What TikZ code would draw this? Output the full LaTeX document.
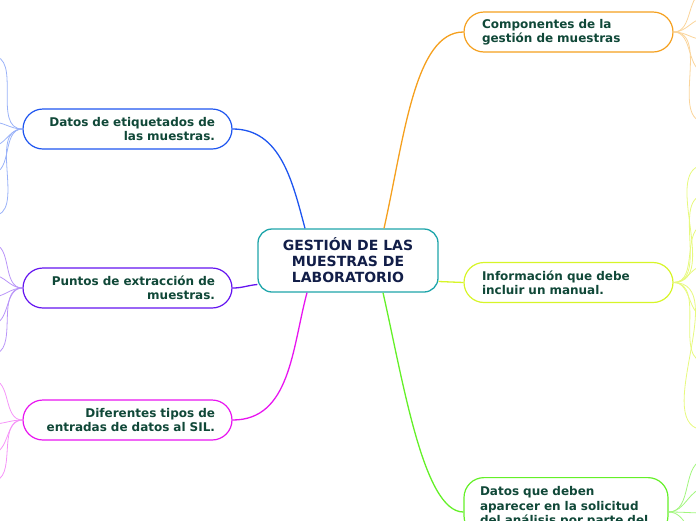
\documentclass[tikz,border=0pt]{standalone}
\usepackage{fontspec}
\setmainfont{DejaVu Sans}
\usetikzlibrary{calc}
\definecolor{txtgreen}{RGB}{16,72,56}
\definecolor{txtnavy}{RGB}{18,30,72}
\definecolor{cteal}{RGB}{30,165,170}
\definecolor{cblue}{RGB}{30,85,240}
\definecolor{cpurple}{RGB}{100,20,240}
\definecolor{cmag}{RGB}{232,20,240}
\definecolor{corange}{RGB}{245,160,30}
\definecolor{cyellow}{RGB}{215,245,40}
\definecolor{cgreen}{RGB}{100,240,40}
\begin{document}
\begin{tikzpicture}[x=1pt,y=1pt,
  branchbox/.style={draw, fill=white, line width=1.2pt, rounded corners=20pt,
    minimum width=209pt, minimum height=40pt, inner ysep=5pt,
    font=\fontsize{12}{14.3}\selectfont\bfseries, text=txtgreen},
  leftbox/.style={branchbox, inner xsep=17pt, text width=175pt, align=right},
  rightbox/.style={branchbox, inner xsep=18pt, text width=173pt, align=left},
  centerbox/.style={draw=cteal, fill=white, line width=1.3pt, rounded corners=14pt,
    minimum width=180pt, minimum height=63pt, align=center,
    font=\fontsize{14}{16}\selectfont\bfseries, text=txtnavy},
  mainline/.style={line width=1.3pt},
  childline/.style={line width=0.8pt}
]
\useasboundingbox (0,0) rectangle (696,-520);
\clip (0,0) rectangle (696,-520);

% nodes
\node[centerbox] (c) at (348,-260.5) {GESTIÓN DE LAS\\MUESTRAS DE\\LABORATORIO};
\node[leftbox, draw=cblue] (de) at (127.5,-129) {Datos de etiquetados de\\las muestras.};
\node[leftbox, draw=cpurple] (pu) at (127.5,-288) {Puntos de extracción de\\muestras.};
\node[leftbox, draw=cmag] (di) at (127.5,-420) {Diferentes tipos de\\entradas de datos al SIL.};
\node[rightbox, draw=corange] (comp) at (568.5,-32) {Componentes de la\\gestión de muestras};
\node[rightbox, draw=cyellow] (info) at (568.5,-282.5) {Información que debe\\incluir un manual.};
\node[branchbox, draw=cgreen, anchor=north, minimum width=204pt, inner xsep=16pt,
      inner ysep=9pt, text width=172pt, align=left] (dq) at (566,-477)
      {Datos que deben\\aparecer en la solicitud\\del análisis por parte del};

\coordinate (dqin) at ($(dq.north west)+(0,-35)$);
\coordinate (dqout) at ($(dq.north east)+(0,-35)$);

% main connectors
\draw[mainline, cblue] ([xshift=-43pt]c.north) to[out=105,in=0] (de.east);
\draw[mainline, cpurple] ([yshift=-24pt]c.west) to[out=185,in=0] (pu.east);
\draw[mainline, cmag] ([xshift=-41pt]c.south) to[out=-105,in=0] (di.east);
\draw[mainline, corange] ([xshift=36pt]c.north) .. controls +(20,89) and +(-49,0) .. (comp.west);
\draw[mainline, cyellow] ([yshift=-21pt]c.east) to (info.west);
\draw[mainline, cgreen] ([xshift=35pt]c.south) .. controls +(20,-88) and +(-40,0) .. (dqin);

% child connectors (leaving the picture)
\foreach \y in {-56,-122,-146,-173,-216}
  \draw[childline, cblue!45] (de.west) to[out=180,in=0] (-8,\y);
\foreach \y in {-244,-275,-297,-324,-354}
  \draw[childline, cpurple!45] (pu.west) to[out=180,in=0] (-8,\y);
\foreach \y in {-380,-424,-453,-481}
  \draw[childline, cmag!45] (di.west) to[out=180,in=0] (-8,\y);
\foreach \y in {8,-18,-40,-72,-122}
  \draw[childline, corange!45] (comp.east) to[out=0,in=180] (706,\y);
\foreach \y in {-165,-195,-225,-265,-317,-362,-430}
  \draw[childline, cyellow!60] (info.east) to[out=0,in=180] (706,\y);
\foreach \y in {-460,-488,-513,-540}
  \draw[childline, cgreen!60] (dqout) to[out=0,in=180] (706,\y);
\end{tikzpicture}
\end{document}
